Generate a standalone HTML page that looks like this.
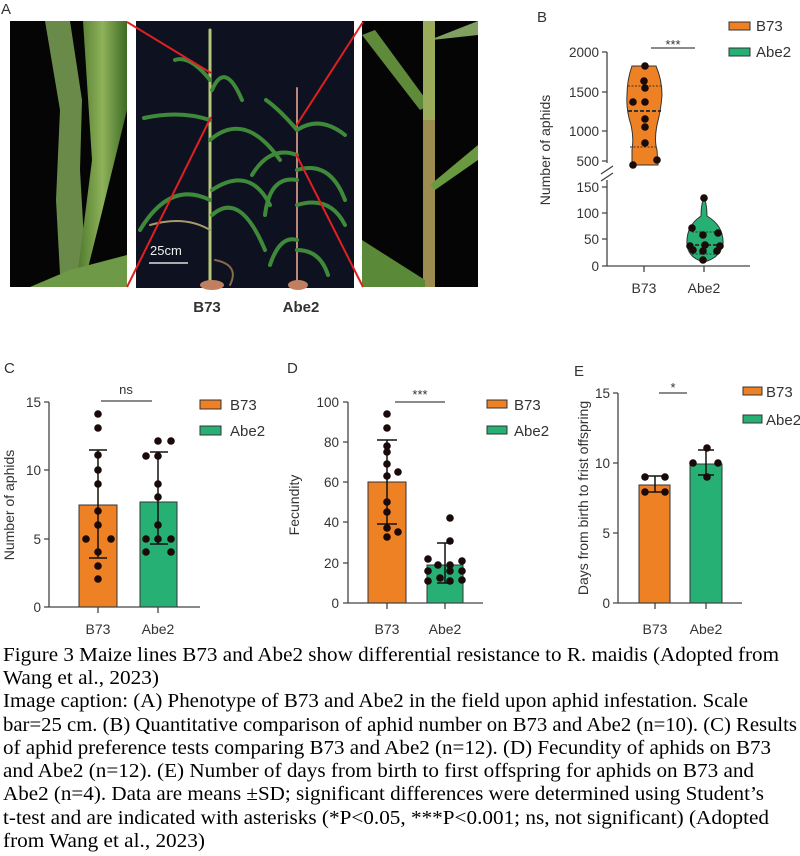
<!DOCTYPE html>
<html><head><meta charset="utf-8"><style>
html,body{margin:0;padding:0;background:#fff;}
svg{display:block;}
.s{font-family:"Liberation Sans",sans-serif;fill:#333;}
.cap{font-family:"Liberation Serif",serif;font-size:20px;fill:#000;}
</style></head><body>
<svg width="800" height="856" viewBox="0 0 800 856" xmlns="http://www.w3.org/2000/svg">
<defs>
<linearGradient id="lf" x1="0" x2="1"><stop offset="0" stop-color="#4f7a2e"/><stop offset="0.5" stop-color="#8fb25a"/><stop offset="1" stop-color="#3d6a25"/></linearGradient>
</defs>
<!-- Panel A -->
<text x="1" y="14" class="s" font-size="15" fill="#222">A</text>
<rect x="10" y="21" width="117" height="266" fill="#050505"/>
<path d="M45,21 L70,21 L82,100 L80,170 L84,240 L80,272 L60,274 L56,200 L60,110 Z" fill="#6a8a4a"/>
<path d="M83,21 L127,21 L127,110 L100,220 L85,280 L78,270 L92,160 Z" fill="url(#lf)"/>
<path d="M30,287 L70,270 L127,255 L127,287 Z" fill="#6e9a48"/>
<rect x="136" y="21" width="218" height="267" fill="#0d1120"/>
<g fill="none" stroke-linecap="round">
<path d="M210,285 L210,30" stroke="#b8c67a" stroke-width="3"/>
<path d="M297,285 L297,88" stroke="#b9887a" stroke-width="2"/>
<g stroke="#3f8a3a" stroke-width="4">
<path d="M210,80 Q190,55 175,60"/><path d="M212,90 Q225,60 242,100"/>
<path d="M210,120 Q180,110 144,118"/><path d="M210,140 Q245,110 280,160"/>
<path d="M210,200 Q170,180 140,230"/><path d="M212,190 Q250,165 270,205"/>
<path d="M212,215 Q240,190 265,250"/><path d="M297,130 Q280,110 266,100"/>
<path d="M297,130 Q320,115 345,135"/><path d="M297,155 Q270,145 252,175"/>
<path d="M297,170 Q330,160 345,200"/><path d="M297,205 Q330,195 345,225"/>
<path d="M297,240 Q280,235 270,265"/><path d="M297,250 Q320,250 328,275"/>
<path d="M297,180 Q270,175 265,215"/>
</g>
<path d="M150,225 Q185,215 210,230" stroke="#a89a6a" stroke-width="2"/>
<path d="M215,260 Q240,265 230,285" stroke="#8a6a4a" stroke-width="2"/>
</g>
<ellipse cx="212" cy="285" rx="12" ry="5" fill="#c08060"/>
<ellipse cx="298" cy="285" rx="10" ry="5" fill="#c08060"/>
<text x="150" y="255" class="s" font-size="13" style="fill:#eee">25cm</text>
<line x1="149" y1="263" x2="188" y2="263" stroke="#ddd" stroke-width="1.5"/>
<rect x="362" y="21" width="116" height="266" fill="#050505"/>
<path d="M362,35 L420,110 L430,105 L375,30 Z" fill="#5f8a3a"/>
<path d="M427,41 L478,21 L478,35 L432,40 Z" fill="#7fa060"/>
<rect x="423" y="21" width="12" height="266" fill="#9aab5a"/>
<rect x="423" y="120" width="12" height="167" fill="#a07848" opacity="0.6"/>
<path d="M430,185 L478,145 L478,160 L435,190 Z" fill="#6a9a40"/>
<path d="M362,240 L425,280 L425,287 L362,287 Z" fill="#5a8a38"/>
<g stroke="#e02020" stroke-width="2">
<line x1="127" y1="22" x2="211" y2="73"/><line x1="211" y1="117" x2="127" y2="287"/>
<line x1="363" y1="22" x2="296" y2="126"/><line x1="296" y1="154" x2="363" y2="287"/>
</g>
<text x="207" y="312" class="s" font-size="15" font-weight="bold" text-anchor="middle" fill="#222">B73</text>
<text x="301" y="312" class="s" font-size="15" font-weight="bold" text-anchor="middle" fill="#222">Abe2</text>

<!-- Panel B -->
<text x="537" y="22" class="s" font-size="15" fill="#222">B</text>
<g stroke="#444" stroke-width="1.3" fill="none">
<path d="M607,52 L607,163 M607,180 L607,266 L750,266"/>
<path d="M602,52H607M602,92H607M602,131H607M602,161H607M602,187H607M602,213H607M602,239H607M602,266H607"/>
<path d="M644,266V272M704,266V272"/>
<path d="M601,174 L613,166 M601,181 L613,173"/>
<path d="M651,48H695"/>
</g>
<g class="s" font-size="13.5" text-anchor="end">
<text x="599" y="57">2000</text><text x="599" y="97">1500</text><text x="599" y="136">1000</text><text x="599" y="166">500</text>
<text x="599" y="192">150</text><text x="599" y="218">100</text><text x="599" y="244">50</text><text x="599" y="271">0</text>
</g>
<text class="s" font-size="14" text-anchor="middle" transform="translate(550,150) rotate(-90)">Number of aphids</text>
<text x="644" y="293" class="s" font-size="14" text-anchor="middle">B73</text>
<text x="704" y="293" class="s" font-size="14" text-anchor="middle">Abe2</text>
<text x="673" y="49" class="s" font-size="13" text-anchor="middle">***</text>
<path d="M632,66 L656,66 Q662,80 662,95 Q661,110 657,125 Q654,140 657,150 L658,165 L632,165 L632,150 Q634,138 631,125 Q626,110 627,95 Q627,80 632,66 Z" fill="#ef8125" stroke="#333" stroke-width="1"/>
<g stroke="#333" stroke-width="1"><path d="M628,86H661M630,147H656" stroke-dasharray="2,1.5"/><path d="M628,111H661" stroke-dasharray="4,2" stroke-width="2"/></g>
<path d="M704,196 Q707,205 707,216 Q724,226 723,244 Q720,258 704,262 Q688,258 687,244 Q686,226 701,216 Q701,205 704,196 Z" fill="#27b074" stroke="#333" stroke-width="1"/>
<g stroke="#333" stroke-width="1"><path d="M692,232H718M692,254H716" stroke-dasharray="2,1.5"/><path d="M689,245H721" stroke-dasharray="4,2" stroke-width="2"/></g>
<g fill="#1a0a0a">
<circle cx="645" cy="66" r="3.8"/><circle cx="644" cy="81" r="3.8"/><circle cx="645" cy="88" r="3.8"/><circle cx="633" cy="102" r="3.8"/><circle cx="645" cy="102" r="3.8"/><circle cx="645" cy="119" r="3.8"/><circle cx="645" cy="127" r="3.8"/><circle cx="645" cy="143" r="3.8"/><circle cx="633" cy="165" r="3.8"/><circle cx="657" cy="160" r="3.8"/>
<circle cx="704" cy="198" r="3.8"/><circle cx="692" cy="228" r="3.8"/><circle cx="718" cy="233" r="3.8"/><circle cx="703" cy="235" r="3.8"/><circle cx="690" cy="246" r="3.8"/><circle cx="705" cy="245" r="3.8"/><circle cx="720" cy="246" r="3.8"/><circle cx="693" cy="250" r="3.8"/><circle cx="703" cy="251" r="3.8"/><circle cx="717" cy="251" r="3.8"/><circle cx="703" cy="260" r="3.8"/>
</g>
<rect x="729" y="22" width="21" height="8" fill="#ef8125" stroke="#333"/><text x="756" y="31" class="s" font-size="15">B73</text>
<rect x="729" y="48" width="21" height="8" fill="#27b074" stroke="#333"/><text x="756" y="57" class="s" font-size="15">Abe2</text>

<!-- Panel C -->
<text x="4" y="373" class="s" font-size="15" fill="#222">C</text>
<rect x="79" y="505" width="38" height="102" fill="#ef8125" stroke="#333"/>
<rect x="140" y="502" width="37" height="105" fill="#27b074" stroke="#333"/>
<g stroke="#444" stroke-width="1.3" fill="none">
<path d="M49,402V607H200M44,402H49M44,470H49M44,539H49M44,607H49M98,607V613M158,607V613M101,401H152"/>
</g>
<g stroke="#111" stroke-width="1.5" fill="none"><path d="M98,458V558M89,450H107M89,558H107M98,450V460"/><path d="M158,452V544M150,452H168M150,544H168"/></g>
<g class="s" font-size="13.5" text-anchor="end"><text x="41" y="407">15</text><text x="41" y="475">10</text><text x="41" y="544">5</text><text x="41" y="612">0</text></g>
<text class="s" font-size="14" text-anchor="middle" transform="translate(14,505) rotate(-90)">Number of aphids</text>
<text x="98" y="634" class="s" font-size="14" text-anchor="middle">B73</text><text x="158" y="634" class="s" font-size="14" text-anchor="middle">Abe2</text>
<text x="126" y="394" class="s" font-size="13" text-anchor="middle">ns</text>
<g fill="#1a0a0a">
<circle cx="98" cy="414" r="3.8"/><circle cx="98" cy="428" r="3.8"/><circle cx="98" cy="455" r="3.8"/><circle cx="98" cy="470" r="3.8"/><circle cx="98" cy="484" r="3.8"/><circle cx="98" cy="511" r="3.8"/><circle cx="98" cy="525" r="3.8"/><circle cx="86" cy="539" r="3.8"/><circle cx="111" cy="539" r="3.8"/><circle cx="98" cy="552" r="3.8"/><circle cx="98" cy="566" r="3.8"/><circle cx="98" cy="579" r="3.8"/>
<circle cx="158" cy="441" r="3.8"/><circle cx="171" cy="441" r="3.8"/><circle cx="146" cy="456" r="3.8"/><circle cx="158" cy="456" r="3.8"/><circle cx="158" cy="484" r="3.8"/><circle cx="158" cy="497" r="3.8"/><circle cx="158" cy="525" r="3.8"/><circle cx="146" cy="539" r="3.8"/><circle cx="158" cy="539" r="3.8"/><circle cx="171" cy="539" r="3.8"/><circle cx="146" cy="552" r="3.8"/><circle cx="171" cy="552" r="3.8"/>
</g>
<rect x="200" y="400" width="21" height="9" fill="#ef8125" stroke="#333"/><text x="230" y="410" class="s" font-size="15">B73</text>
<rect x="200" y="426" width="21" height="9" fill="#27b074" stroke="#333"/><text x="230" y="436" class="s" font-size="15">Abe2</text>

<!-- Panel D -->
<text x="287" y="373" class="s" font-size="15" fill="#222">D</text>
<rect x="368" y="482" width="38" height="121" fill="#ef8125" stroke="#333"/>
<rect x="427" y="565" width="36" height="38" fill="#27b074" stroke="#333"/>
<g stroke="#444" stroke-width="1.3" fill="none">
<path d="M348,402V603H483M343,402H348M343,442H348M343,482H348M343,522H348M343,563H348M343,603H348M387,603V609M445,603V609M395,402H445"/>
</g>
<g stroke="#111" stroke-width="1.5" fill="none"><path d="M387,440V524M377,440H397M377,524H397"/><path d="M445,543V583M437,543H453M437,583H453"/></g>
<g class="s" font-size="13.5" text-anchor="end"><text x="339" y="407">100</text><text x="339" y="447">80</text><text x="339" y="487">60</text><text x="339" y="527">40</text><text x="339" y="568">20</text><text x="339" y="608">0</text></g>
<text class="s" font-size="14" text-anchor="middle" transform="translate(299,505) rotate(-90)">Fecundity</text>
<text x="387" y="634" class="s" font-size="14" text-anchor="middle">B73</text><text x="445" y="634" class="s" font-size="14" text-anchor="middle">Abe2</text>
<text x="420" y="399" class="s" font-size="13" text-anchor="middle">***</text>
<g fill="#1a0a0a">
<circle cx="387" cy="414" r="3.8"/><circle cx="387" cy="428" r="3.8"/><circle cx="387" cy="446" r="3.8"/><circle cx="387" cy="452" r="3.8"/><circle cx="387" cy="464" r="3.8"/><circle cx="387" cy="476" r="3.8"/><circle cx="398" cy="472" r="3.8"/><circle cx="387" cy="502" r="3.8"/><circle cx="387" cy="512" r="3.8"/><circle cx="387" cy="528" r="3.8"/><circle cx="398" cy="532" r="3.8"/><circle cx="387" cy="537" r="3.8"/>
<circle cx="450" cy="518" r="3.8"/><circle cx="450" cy="541" r="3.8"/><circle cx="428" cy="559" r="3.8"/><circle cx="450" cy="565" r="3.8"/><circle cx="462" cy="561" r="3.8"/><circle cx="438" cy="565" r="3.8"/><circle cx="428" cy="571" r="3.8"/><circle cx="450" cy="571" r="3.8"/><circle cx="462" cy="571" r="3.8"/><circle cx="428" cy="581" r="3.8"/><circle cx="440" cy="578" r="3.8"/><circle cx="450" cy="581" r="3.8"/><circle cx="462" cy="580" r="3.8"/>
</g>
<rect x="487" y="400" width="20" height="8" fill="#ef8125" stroke="#333"/><text x="514" y="410" class="s" font-size="15">B73</text>
<rect x="487" y="426" width="20" height="8" fill="#27b074" stroke="#333"/><text x="514" y="436" class="s" font-size="15">Abe2</text>

<!-- Panel E -->
<text x="574" y="376" class="s" font-size="15" fill="#222">E</text>
<rect x="639" y="485" width="31" height="118" fill="#ef8125" stroke="#333"/>
<rect x="690" y="464" width="32" height="139" fill="#27b074" stroke="#333"/>
<g stroke="#444" stroke-width="1.3" fill="none">
<path d="M618,393V603H742M613,393H618M613,463H618M613,533H618M613,603H618M655,603V609M706,603V609M659,393H687"/>
</g>
<g stroke="#111" stroke-width="1.5" fill="none"><path d="M655,476V492M647,476H663M647,492H663"/><path d="M706,450V475M698,450H714M698,475H714"/></g>
<g class="s" font-size="13.5" text-anchor="end"><text x="610" y="398">15</text><text x="610" y="468">10</text><text x="610" y="538">5</text><text x="610" y="608">0</text></g>
<text class="s" font-size="14" text-anchor="middle" transform="translate(588,498) rotate(-90)">Days from birth to frist offspring</text>
<text x="655" y="634" class="s" font-size="14" text-anchor="middle">B73</text><text x="706" y="634" class="s" font-size="14" text-anchor="middle">Abe2</text>
<text x="673" y="392" class="s" font-size="13" text-anchor="middle">*</text>
<g fill="#1a0a0a">
<circle cx="645" cy="477" r="3.8"/><circle cx="665" cy="477" r="3.8"/><circle cx="645" cy="492" r="3.8"/><circle cx="665" cy="492" r="3.8"/>
<circle cx="707" cy="448" r="3.8"/><circle cx="693" cy="463" r="3.8"/><circle cx="718" cy="463" r="3.8"/><circle cx="707" cy="477" r="3.8"/>
</g>
<rect x="743" y="387" width="19" height="8" fill="#ef8125" stroke="#333"/><text x="766" y="397" class="s" font-size="15">B73</text>
<rect x="743" y="415" width="19" height="8" fill="#27b074" stroke="#333"/><text x="766" y="425" class="s" font-size="15">Abe2</text>

<!-- Caption -->
<text x="3" y="661" class="cap" textLength="776" lengthAdjust="spacingAndGlyphs">Figure 3 Maize lines B73 and Abe2 show differential resistance to R. maidis (Adopted from</text>
<text x="3" y="684" class="cap" textLength="156" lengthAdjust="spacingAndGlyphs">Wang et al., 2023)</text>
<text x="3" y="707" class="cap" textLength="745" lengthAdjust="spacingAndGlyphs">Image caption: (A) Phenotype of B73 and Abe2 in the field upon aphid infestation. Scale</text>
<text x="3" y="731" class="cap" textLength="794" lengthAdjust="spacingAndGlyphs">bar=25 cm. (B) Quantitative comparison of aphid number on B73 and Abe2 (n=10). (C) Results</text>
<text x="3" y="754" class="cap" textLength="768" lengthAdjust="spacingAndGlyphs">of aphid preference tests comparing B73 and Abe2 (n=12). (D) Fecundity of aphids on B73</text>
<text x="3" y="777" class="cap" textLength="751" lengthAdjust="spacingAndGlyphs">and Abe2 (n=12). (E) Number of days from birth to first offspring for aphids on B73 and</text>
<text x="3" y="800" class="cap" textLength="761" lengthAdjust="spacingAndGlyphs">Abe2 (n=4). Data are means ±SD; significant differences were determined using Student’s</text>
<text x="3" y="824" class="cap" textLength="766" lengthAdjust="spacingAndGlyphs">t-test and are indicated with asterisks (*P&lt;0.05, ***P&lt;0.001; ns, not significant) (Adopted</text>
<text x="3" y="847" class="cap" textLength="202" lengthAdjust="spacingAndGlyphs">from Wang et al., 2023)</text>
</svg>
</body></html>
